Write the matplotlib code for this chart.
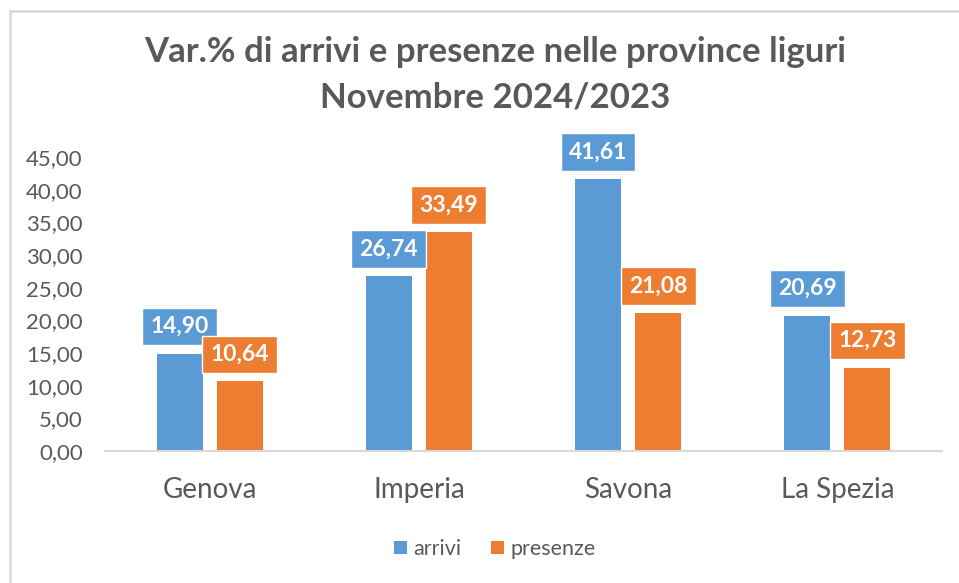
import matplotlib.pyplot as plt
from matplotlib.lines import Line2D
import numpy as np

# Data
province = ["Genova", "Imperia", "Savona", "La Spezia"]
arrivi = [14.90, 26.74, 41.61, 20.69]
presenze = [10.64, 33.49, 21.08, 12.73]

BLUE = "#5B9BD5"
ORANGE = "#ED7D31"
GREY = "#595959"

plt.rcParams['font.family'] = ['Lato', 'DejaVu Sans']

fig = plt.figure(figsize=(9.59, 5.83), dpi=100)
ax = fig.add_axes([0.1095, 0.2264, 0.8728, 0.5043])

x = np.arange(len(province))
width = 0.22
offset = 0.1435

bars_a = ax.bar(x - offset, arrivi, width, color=BLUE, label="arrivi")
bars_p = ax.bar(x + offset, presenze, width, color=ORANGE, label="presenze")

def fmt(v):
    return f"{v:.2f}".replace(".", ",")

# data labels in coloured boxes above each bar
for bars, vals, col in [(bars_a, arrivi, BLUE), (bars_p, presenze, ORANGE)]:
    for b, v in zip(bars, vals):
        ax.annotate(fmt(v), (b.get_x() + b.get_width() / 2, v),
                    xytext=(0, 12), textcoords="offset points",
                    ha="center", va="bottom", color="white",
                    fontsize=16.5, fontweight="bold",
                    bbox=dict(boxstyle="square,pad=0.36", fc=col, ec="white", lw=1))

ax.set_xlim(-0.5, len(province) - 0.5)
ax.set_ylim(0, 45)
ax.set_yticks(np.arange(0, 46, 5))
ax.set_yticklabels([fmt(t) for t in np.arange(0, 46, 5)])
ax.set_xticks(x)
ax.set_xticklabels(province)

for s in ["top", "right", "left"]:
    ax.spines[s].set_visible(False)
ax.spines["bottom"].set_color("#D9D9D9")
ax.spines["bottom"].set_linewidth(1.5)
ax.tick_params(axis="y", length=0, pad=16, labelsize=16, labelcolor=GREY)
ax.tick_params(axis="x", length=0, pad=19, labelsize=20, labelcolor=GREY)

fig.text(0.516, 0.91, "Var.% di arrivi e presenze nelle province liguri",
         ha="center", va="center", fontsize=25, fontweight="bold", color=GREY)
fig.text(0.516, 0.833, "Novembre 2024/2023",
         ha="center", va="center", fontsize=25, fontweight="bold", color=GREY)

leg = fig.legend(loc="center", bbox_to_anchor=(0.516, 0.058), ncol=2, frameon=False,
                 fontsize=15.5, handlelength=0.6, handleheight=0.6, handletextpad=0.3,
                 columnspacing=1.4)
for t in leg.get_texts():
    t.set_color(GREY)

# outer chart frame (partially visible in the screenshot)
fig.add_artist(Line2D([0.0105, 1], [1 - 11 / 583, 1 - 11 / 583], transform=fig.transFigure,
                      color="#D9D9D9", lw=1.8))
fig.add_artist(Line2D([0.0105, 0.0105], [0, 1 - 11 / 583], transform=fig.transFigure,
                      color="#D9D9D9", lw=1.8))

fig.savefig("out.png", dpi=100, facecolor="white")
